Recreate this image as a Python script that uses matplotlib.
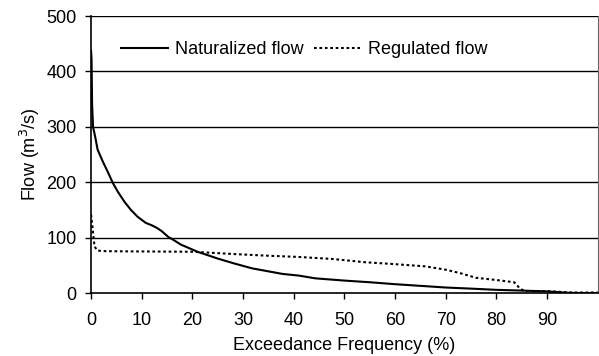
import matplotlib
matplotlib.use("Agg")
import matplotlib.pyplot as plt

plt.rcParams['font.family'] = ['Liberation Sans', 'DejaVu Sans']

# exceedance frequency (%) and flow (m3/s)
nat_x = [0, 0.1, 0.2, 0.3, 0.4, 0.8, 1.3, 2.3, 3.3, 4.3, 5.3, 6.6, 7.9, 9.2,
         10.8, 11.9, 12.9, 13.9, 15.2, 16.5, 17.7, 21.0, 24.9, 28.2, 31.8,
         37.8, 41, 44.3, 50, 55, 60, 65, 70, 75, 80, 85, 90, 94, 97, 100]
nat_y = [437, 422, 343, 320, 300, 283, 259, 238, 219, 199, 183, 165, 150, 138,
         127, 123, 118.5, 112.5, 102, 95, 88, 75, 63, 54, 45,
         35, 32, 27, 23, 20, 16.5, 13.5, 10.5, 8.5, 6.3, 5, 3.5, 1, 0.5, 0]

reg_x = [0, 0.3, 0.5, 0.7, 1.3, 3, 10, 20, 24, 27.9, 34.5, 41, 47.6, 50.9,
         54.2, 59.4, 66, 70, 73, 76, 80, 83.5, 84.5, 85.5, 90, 94.8, 100]
reg_y = [142, 118, 100, 84, 77, 76, 75.5, 75, 73, 71, 68, 65.6, 62, 59,
         56, 53, 48.6, 42.6, 36, 28, 24, 20, 10, 4, 4, 1.5, 1.5]

x_ticks = list(range(0, 100, 10))
y_ticks = list(range(0, 501, 100))

fig = plt.figure(figsize=(5.99, 3.56), dpi=100)
ax = fig.add_axes([0.152, 0.176, 0.846, 0.779])

ax.plot(nat_x, nat_y, color="black", lw=1.5, label="Naturalized flow")
ax.plot(reg_x, reg_y, color="black", lw=1.5, linestyle=(0, (1.3, 1.3)),
        label="Regulated flow")

ax.set_xlim(0, 100)
ax.set_ylim(0, 500)
ax.set_xticks(x_ticks)
ax.set_yticks(y_ticks)
ax.tick_params(axis="both", direction="out", length=4.5, width=1,
               labelsize=13, color="black")
ax.tick_params(axis="x", pad=9)
ax.tick_params(axis="y", pad=6)

for yv in y_ticks[1:]:
    ax.axhline(yv, color="black", lw=1, zorder=0)

ax.spines["top"].set_visible(False)
ax.spines["right"].set_color("#666666")
ax.spines["left"].set_linewidth(1.2)
ax.spines["bottom"].set_linewidth(1.2)

ax.set_xlabel("Exceedance Frequency (%)", fontsize=13, labelpad=6)
ax.set_ylabel("Flow (m$^3$/s)", fontsize=13, labelpad=3)

ax.legend(loc="upper left", bbox_to_anchor=(0.045, 0.935), ncol=2,
          frameon=False, fontsize=13, handlelength=2.6, handletextpad=0.38,
          columnspacing=0.6, borderaxespad=0)

fig.savefig("out.png", dpi=100)
